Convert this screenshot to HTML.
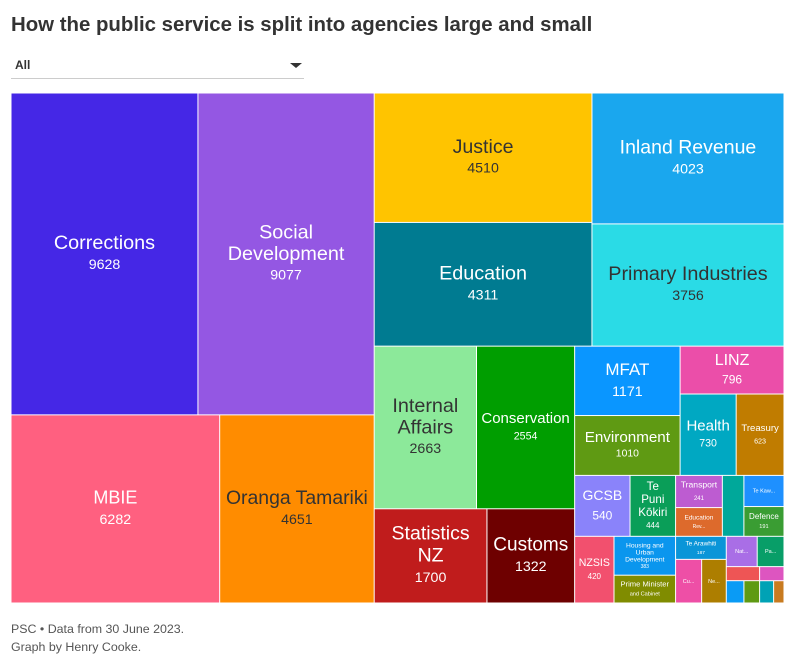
<!DOCTYPE html>
<html lang="en">
<head>
<meta charset="utf-8">
<title>How the public service is split into agencies large and small</title>
<style>
html,body{margin:0;padding:0;background:#fff;}
body{width:796px;height:665px;overflow:hidden;position:relative;font-family:"Liberation Sans",sans-serif;color:#333;}
#chart-title{position:absolute;left:11px;top:12px;margin:0;font-size:20.4px;line-height:26px;font-weight:700;color:#333;white-space:nowrap;}
#filter{position:absolute;left:11px;top:54px;width:293px;height:24px;border-bottom:1px solid #ccc;cursor:pointer;}
#filter-label{position:absolute;left:4px;top:4px;font-size:12px;line-height:15px;font-weight:700;color:#333;}
#filter-arrow{position:absolute;left:279px;top:9px;width:0;height:0;border-left:6px solid transparent;border-right:6px solid transparent;border-top:5px solid #333;}
#treemap{position:absolute;left:0;top:0;}
#footer{position:absolute;left:11px;top:620px;font-size:12.4px;line-height:18px;color:#555;white-space:nowrap;}
</style>
</head>
<body>
<h1 id="chart-title">How the public service is split into agencies large and small</h1>
<div id="filter">
  <span id="filter-label">All</span>
  <span id="filter-arrow"></span>
</div>
<svg id="treemap" width="796" height="665" viewBox="0 0 796 665" xmlns="http://www.w3.org/2000/svg"></svg>
<div id="footer">
  <div>PSC • Data from 30 June 2023.</div>
  <div>Graph by Henry Cooke.</div>
</div>
<script>
const agencies = ['Corrections','Social Development','MBIE','Oranga Tamariki','Justice','Education','Inland Revenue','Primary Industries','Internal Affairs','Conservation','Statistics NZ','Customs','MFAT','Environment','LINZ','Health','Treasury','GCSB','Te Puni Kokiri','NZSIS','Housing and Urban Development','Prime Minister and Cabinet','Transport','Education Review Office','Unlabelled A','Te Kawa Mataaho','Defence','Te Arawhiti','Culture and Heritage','Serious Fraud','National Emergency','Pacific Peoples','Unlabelled B','Unlabelled C','Unlabelled D','Unlabelled E','Unlabelled F','Unlabelled G'];
const headcounts = [9628,9077,6282,4651,4510,4311,4023,3756,2663,2554,1700,1322,1171,1010,796,730,623,540,444,420,383,274,241,215,210,200,191,187,182,172,150,130,75,63,56,55,50,37];

const colours = ['#4527e6','#9457e3','#ff6080','#ff8c00','#ffc400','#007b91','#1aa7ee','#2adbe6','#8ce99a','#009e00','#c01c1c','#6e0000','#0a96ff','#5f9a13','#eb4ea9','#00a8c2','#c07c00','#8a83fa','#0a9e58','#f2506e','#0a96ee','#808c00','#bd5cd1','#dd6a2c','#00a89a','#1e90ff','#3a9d33','#0a95d8','#ee4fa6','#ad7e00','#a96ee6','#089e68','#ee5555','#0a9bf5','#5f9a13','#dd55c0','#00a2b5','#c87b20'];
const darkText = {'Oranga Tamariki':1,'Justice':1,'Primary Industries':1,'Internal Affairs':1};
const labelText = {'Social Development':['Social','Development'],'Internal Affairs':['Internal','Affairs'],'Statistics NZ':['Statistics','NZ'],'Te Puni Kokiri':['Te','Puni','Kōkiri'],'Housing and Urban Development':['Housing and','Urban','Development'],'Prime Minister and Cabinet':['Prime Minister'],'Education Review Office':['Education'],'Te Kawa Mataaho':['Te Kaw...'],'Culture and Heritage':['Cu...'],'Serious Fraud':['Ne...'],'National Emergency':['Nat...'],'Pacific Peoples':['Pa...']};
const subText = {'Prime Minister and Cabinet':'and Cabinet','Education Review Office':'Rev...','Te Kawa Mataaho':'','Culture and Heritage':'','Serious Fraud':'','National Emergency':'','Pacific Peoples':''};
/* label style per agency: name size, value size, line gap */
const labelStyles = {'Corrections':[19.8,14.2,21.5],'Social Development':[19.8,14.2,21.5],'MBIE':[18,14.2,21.5],'Oranga Tamariki':[19.4,14.2,21.5],'Justice':[19.6,14.2,21.5],'Education':[19.8,14.2,21.5],'Inland Revenue':[19.5,14.2,21.5],'Primary Industries':[19.8,14.2,21.5],'Internal Affairs':[19.8,14.2,21.5],'Conservation':[15,10.6,18],'Statistics NZ':[19.5,14.2,22],'Customs':[19,14.2,22],'MFAT':[17,14.2,22],'Environment':[15.2,10.4,16],'LINZ':[16,12,20],'Health':[15,10.6,17],'Treasury':[9.6,7.2,13],'GCSB':[14,12,20],'Te Puni Kokiri':[11.6,8,13],'NZSIS':[10.6,8,14],'Housing and Urban Development':[6.7,5,7],'Prime Minister and Cabinet':[7.6,5.6,9.7],'Transport':[8.6,6,13],'Education Review Office':[6.5,5,9],'Te Kawa Mataaho':[5.5,0,0],'Defence':[8,5.6,10],'Te Arawhiti':[6.4,4.8,9],'Culture and Heritage':[5.5,0,0],'Serious Fraud':[5.5,0,0],'National Emergency':[5.5,0,0],'Pacific Peoples':[5.5,0,0]};

const plot = {x0:11, y0:93, x1:784, y1:603};
const svgNS = 'http://www.w3.org/2000/svg';
const svg = document.getElementById('treemap');

function slug(s){ return s.toLowerCase().replace(/[^a-z0-9]+/g,'-'); }

/* Binary treemap partition: values are split near their midpoint along the longer side. */
function layout(values, box){
  const sums = [0];
  values.forEach(function(v,i){ sums[i+1] = sums[i] + v; });
  const tiles = [];
  function partition(i, j, total, x0, y0, x1, y1){
    if (i >= j - 1) { tiles[i] = {x0:x0,y0:y0,x1:x1,y1:y1}; return; }
    const offset = sums[i], target = total / 2 + offset;
    let k = i + 1, hi = j - 1;
    while (k < hi) {
      const mid = (k + hi) >>> 1;
      if (sums[mid] < target) k = mid + 1; else hi = mid;
    }
    if ((target - sums[k-1]) < (sums[k] - target) && i + 1 < k) --k;
    const left = sums[k] - offset, right = total - left;
    if ((x1 - x0) > (y1 - y0)) {
      const xk = total ? (x0 * right + x1 * left) / total : x1;
      partition(i, k, left, x0, y0, xk, y1);
      partition(k, j, right, xk, y0, x1, y1);
    } else {
      const yk = total ? (y0 * right + y1 * left) / total : y1;
      partition(i, k, left, x0, y0, x1, yk);
      partition(k, j, right, x0, yk, x1, y1);
    }
  }
  partition(0, values.length, sums[values.length], box.x0, box.y0, box.x1, box.y1);
  return tiles;
}

function addText(str, x, y, size, fill, name){
  const t = document.createElementNS(svgNS,'text');
  t.setAttribute('x', x);
  t.setAttribute('y', y + size * 0.3);
  t.setAttribute('text-anchor','middle');
  t.setAttribute('font-size', size);
  t.setAttribute('fill', fill);
  t.setAttribute('font-family','"Liberation Sans", sans-serif');
  
  
  t.textContent = str;
  svg.appendChild(t);
}

const tiles = layout(headcounts, plot);
tiles.forEach(function(tile, i){
  const agency = agencies[i];
  const r = document.createElementNS(svgNS,'rect');
  r.setAttribute('x', tile.x0 + 0.5);
  r.setAttribute('y', tile.y0 + 0.5);
  r.setAttribute('width', Math.max(0, tile.x1 - tile.x0 - 1));
  r.setAttribute('height', Math.max(0, tile.y1 - tile.y0 - 1));
  r.setAttribute('fill', colours[i]);
  
  
  svg.appendChild(r);

  const style = labelStyles[agency];
  if (!style) return;
  const lines = labelText[agency] || [agency];
  const hasSub = Object.prototype.hasOwnProperty.call(subText, agency);
  const second = hasSub ? subText[agency] : String(headcounts[i]);
  const cx = (tile.x0 + tile.x1) / 2;
  const cy = (tile.y0 + tile.y1) / 2;
  const count = lines.length + (second ? 1 : 0);
  const fill = darkText[agency] ? '#333333' : '#ffffff';
  lines.forEach(function(line, n){
    addText(line, cx, cy + (n - (count - 1) / 2) * style[2], style[0], fill, 'label-' + slug(agency));
  });
  if (second) {
    addText(second, cx, cy + (lines.length - (count - 1) / 2) * style[2], style[1], fill, 'value-' + slug(agency));
  }
});
</script>
</body>
</html>
